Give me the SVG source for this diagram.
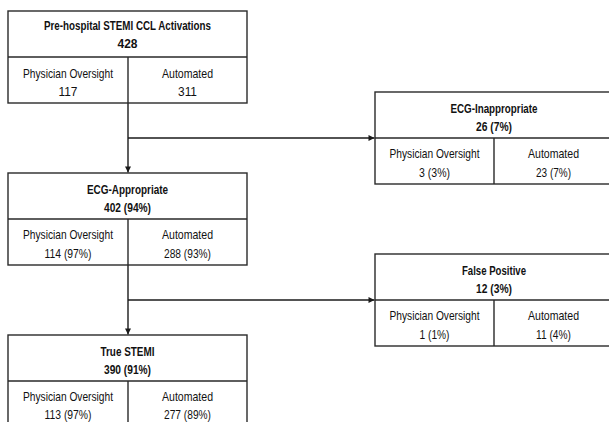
<svg xmlns="http://www.w3.org/2000/svg" width="609" height="422" viewBox="0 0 609 422">
<defs>
<style>
.box{fill:#fff;stroke:#2a2a2a;stroke-width:1.4}
.div{stroke:#2a2a2a;stroke-width:1.4;fill:none}
.t{font-family:"Liberation Sans",Arial,sans-serif;font-size:13px;fill:#111;text-anchor:middle}
.b{font-weight:bold}
.c{stroke:#1a1a1a;stroke-width:1.4;fill:none}
</style>
<marker id="ah" viewBox="0 0 10 10" refX="10" refY="5" markerWidth="8" markerHeight="6" markerUnits="userSpaceOnUse" orient="auto">
<path d="M0,0 L10,5 L0,10 z" fill="#1a1a1a"/>
</marker>
</defs>
<rect width="609" height="422" fill="#fff"/>

<g id="connectors">
<path class="c" d="M128,103 V172.5" marker-end="url(#ah)"/>
<path class="c" d="M128,138 H374.5" marker-end="url(#ah)"/>
<path class="c" d="M128,265 V334.5" marker-end="url(#ah)"/>
<path class="c" d="M128,300 H374.5" marker-end="url(#ah)"/>
</g>

<g id="node-activations">
<rect class="box" x="8" y="11" width="239" height="92"/>
<path class="div" d="M8,57 H247 M128,57 V103"/>
<text class="t b" x="127.5" y="29.5" textLength="167" lengthAdjust="spacingAndGlyphs">Pre-hospital STEMI CCL Activations</text>
<text class="t b" x="127.5" y="48" textLength="20" lengthAdjust="spacingAndGlyphs">428</text>
<text class="t" x="68" y="77.5" textLength="90" lengthAdjust="spacingAndGlyphs">Physician Oversight</text>
<text class="t" x="68" y="95.5" textLength="19" lengthAdjust="spacingAndGlyphs">117</text>
<text class="t" x="187.5" y="77.5" textLength="51" lengthAdjust="spacingAndGlyphs">Automated</text>
<text class="t" x="187.5" y="95.5" textLength="19" lengthAdjust="spacingAndGlyphs">311</text>
</g>

<g id="node-ecg-appropriate">
<rect class="box" x="8" y="173" width="239" height="92"/>
<path class="div" d="M8,219 H247 M128,219 V265"/>
<text class="t b" x="127.5" y="193.5" textLength="81" lengthAdjust="spacingAndGlyphs">ECG-Appropriate</text>
<text class="t b" x="127.5" y="211.5" textLength="47" lengthAdjust="spacingAndGlyphs">402 (94%)</text>
<text class="t" x="68" y="238.5" textLength="90" lengthAdjust="spacingAndGlyphs">Physician Oversight</text>
<text class="t" x="68" y="257.5" textLength="47" lengthAdjust="spacingAndGlyphs">114 (97%)</text>
<text class="t" x="187.5" y="238.5" textLength="51" lengthAdjust="spacingAndGlyphs">Automated</text>
<text class="t" x="187.5" y="257.5" textLength="47" lengthAdjust="spacingAndGlyphs">288 (93%)</text>
</g>

<g id="node-true-stemi">
<rect class="box" x="8" y="335" width="239" height="92"/>
<path class="div" d="M8,381 H247 M128,381 V427"/>
<text class="t b" x="127.5" y="355.5" textLength="54" lengthAdjust="spacingAndGlyphs">True STEMI</text>
<text class="t b" x="127.5" y="373.5" textLength="47" lengthAdjust="spacingAndGlyphs">390 (91%)</text>
<text class="t" x="68" y="400.5" textLength="90" lengthAdjust="spacingAndGlyphs">Physician Oversight</text>
<text class="t" x="68" y="419" textLength="47" lengthAdjust="spacingAndGlyphs">113 (97%)</text>
<text class="t" x="187.5" y="400.5" textLength="51" lengthAdjust="spacingAndGlyphs">Automated</text>
<text class="t" x="187.5" y="419" textLength="47" lengthAdjust="spacingAndGlyphs">277 (89%)</text>
</g>

<g id="node-ecg-inappropriate">
<rect class="box" x="375" y="92" width="239" height="92"/>
<path class="div" d="M375,138 H614 M494,138 V184"/>
<text class="t b" x="494" y="112.5" textLength="87" lengthAdjust="spacingAndGlyphs">ECG-Inappropriate</text>
<text class="t b" x="494" y="130.5" textLength="36" lengthAdjust="spacingAndGlyphs">26 (7%)</text>
<text class="t" x="434.5" y="157.5" textLength="90" lengthAdjust="spacingAndGlyphs">Physician Oversight</text>
<text class="t" x="434.5" y="176.5" textLength="31" lengthAdjust="spacingAndGlyphs">3 (3%)</text>
<text class="t" x="553.5" y="157.5" textLength="51" lengthAdjust="spacingAndGlyphs">Automated</text>
<text class="t" x="553.5" y="176.5" textLength="35" lengthAdjust="spacingAndGlyphs">23 (7%)</text>
</g>

<g id="node-false-positive">
<rect class="box" x="375" y="254" width="239" height="92"/>
<path class="div" d="M375,300 H614 M494,300 V346"/>
<text class="t b" x="494" y="274.5" textLength="64" lengthAdjust="spacingAndGlyphs">False Positive</text>
<text class="t b" x="494" y="292.5" textLength="36" lengthAdjust="spacingAndGlyphs">12 (3%)</text>
<text class="t" x="434.5" y="319.5" textLength="90" lengthAdjust="spacingAndGlyphs">Physician Oversight</text>
<text class="t" x="434.5" y="338.5" textLength="30" lengthAdjust="spacingAndGlyphs">1 (1%)</text>
<text class="t" x="553.5" y="319.5" textLength="51" lengthAdjust="spacingAndGlyphs">Automated</text>
<text class="t" x="553.5" y="338.5" textLength="35" lengthAdjust="spacingAndGlyphs">11 (4%)</text>
</g>
</svg>
